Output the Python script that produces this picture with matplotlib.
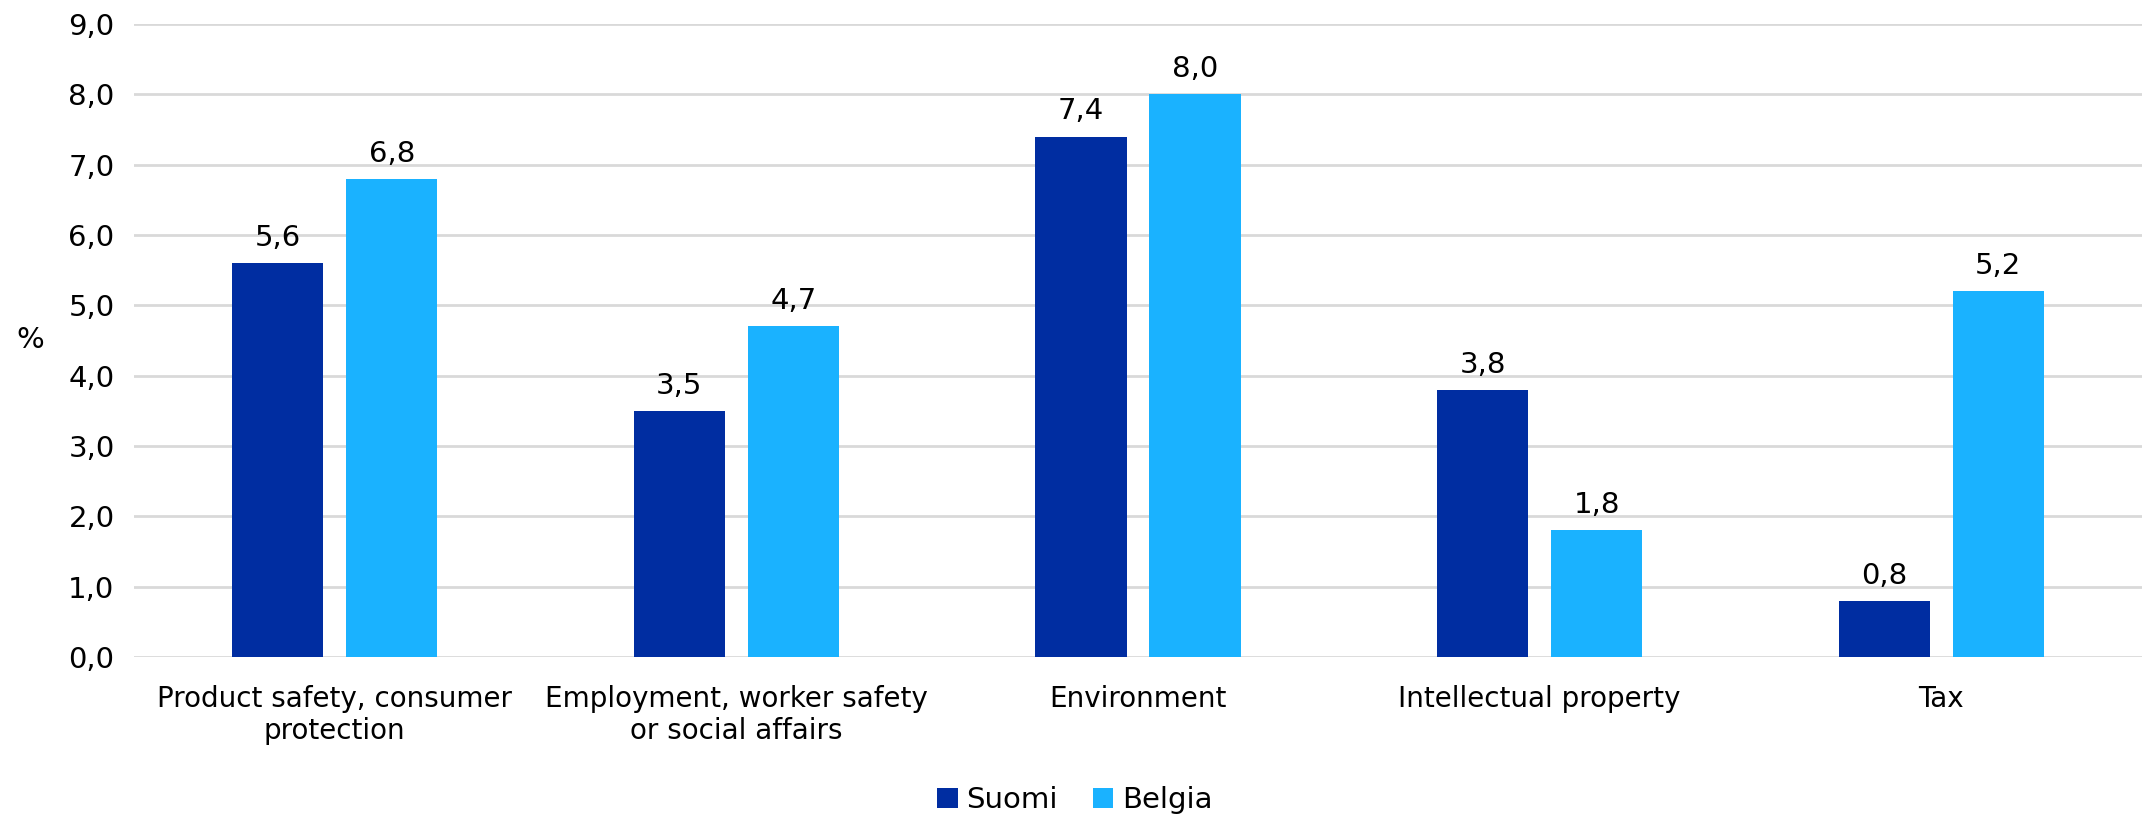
import numpy as np
from matplotlib import pyplot as plt

categories = ["Product safety, consumer\nprotection",
              "Employment, worker safety\nor social affairs",
              "Environment",
              "Intellectual property",
              "Tax"]
suomi = [5.6, 3.5, 7.4, 3.8, 0.8]
belgia = [6.8, 4.7, 8.0, 1.8, 5.2]
series_names = ["Suomi", "Belgia"]
colors = ["#002DA1", "#1AB2FF"]

plt.rcParams['font.family'] = ['DejaVu Sans']

fig = plt.figure(figsize=(21.5, 8.15), dpi=100)
ax = fig.add_axes([134 / 2150, 1 - 657 / 815, (2142 - 134) / 2150, (657 - 24) / 815])

x = np.arange(len(categories))
width = 0.227
offset = 0.142

for vals, off, col, name in zip([suomi, belgia], [-offset, offset], colors, series_names):
    bars = ax.bar(x + off, vals, width, color=col, label=name, zorder=3)
    for b, v in zip(bars, vals):
        ax.annotate(f"{v:.1f}".replace(".", ","), (b.get_x() + b.get_width() / 2, v),
                    xytext=(0, 8), textcoords="offset points",
                    ha="center", va="bottom", fontsize=21)

ax.set_xlim(-0.5, len(categories) - 0.5)
ax.set_ylim(0, 9)
ax.set_yticks(np.arange(0, 9.1, 1))
ax.set_yticklabels([f"{t:.1f}".replace(".", ",") for t in np.arange(0, 9.1, 1)], fontsize=21)
ax.set_xticks(x)
ax.set_xticklabels(categories, fontsize=20)
ax.tick_params(axis="both", length=0)
ax.tick_params(axis="y", pad=14)
ax.tick_params(axis="x", pad=20)
ax.grid(axis="y", color="#D9D9D9", linewidth=2, zorder=0)
for s in ax.spines.values():
    s.set_visible(False)

fig.text(30 / 2150, 1 - 340 / 815, "%", fontsize=21, ha="center", va="center")

fig.legend(loc="center", bbox_to_anchor=(0.5, 1 - 800 / 815), ncol=2, frameon=False,
           fontsize=21, handlelength=0.7, handleheight=0.7, handletextpad=0.3,
           columnspacing=1.2)

fig.savefig("out.png", dpi=100)
